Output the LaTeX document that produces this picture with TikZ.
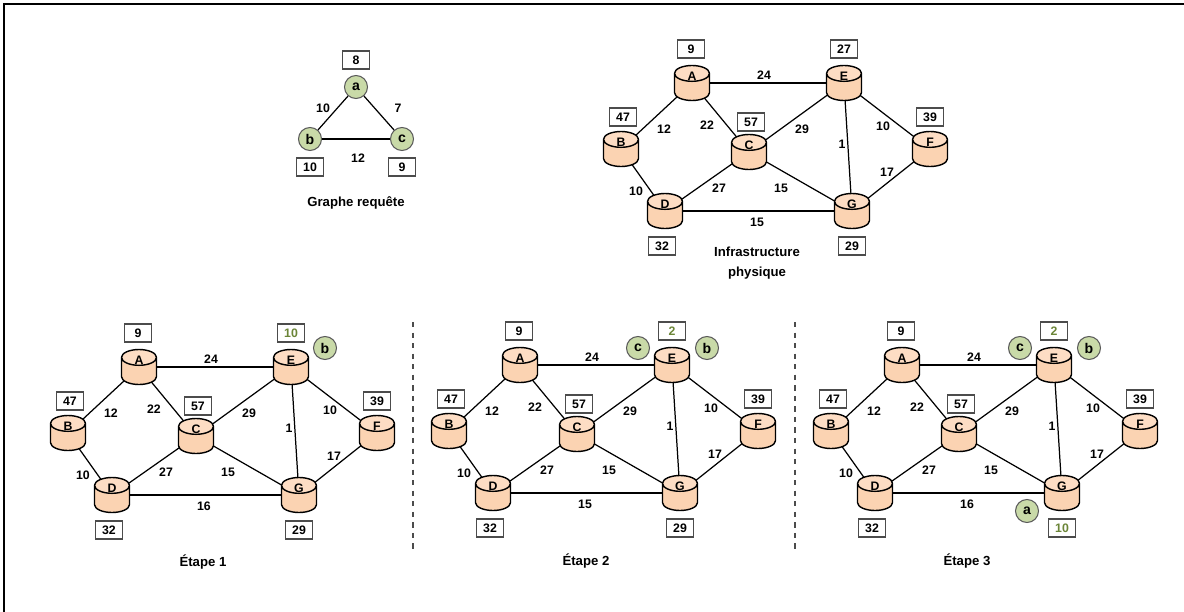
\documentclass[tikz,border=0pt]{standalone}
\usepackage{fontspec}
\setmainfont{Liberation Sans}
\usetikzlibrary{shapes.geometric,backgrounds}
\definecolor{peach}{HTML}{FBD3B2}
\definecolor{peachlight}{HTML}{FDDDC4}
\definecolor{moss}{HTML}{C9DAA8}
\definecolor{mossdark}{HTML}{6B8537}
\tikzset{
  link/.style={line width=.7pt},
  disk/.style={cylinder, shape border rotate=90, shape aspect=1.5, draw=black, line width=.8pt,
    anchor=shape center, minimum width=35*0.02cm, minimum height=35*0.02cm, inner sep=3pt,
    cylinder uses custom fill, cylinder end fill=peachlight, cylinder body fill=peach,
    label={[yshift=8pt,font=\bfseries\fontsize{7}{8}\selectfont]center:#1}},
  tag/.style={draw=black!70, fill=white, line width=.6pt, minimum width=27*0.02cm,
    minimum height=18*0.02cm, inner sep=0pt, font=\bfseries\fontsize{7}{8}\selectfont},
  vnode/.style={circle, draw=black!65, fill=moss, line width=.6pt, minimum size=23*0.02cm,
    inner sep=0pt, font=\bfseries\fontsize{8}{9}\selectfont},
  weight/.style={inner sep=0pt, font=\bfseries\fontsize{7}{8}\selectfont},
  caption/.style={inner sep=0pt, align=center, font=\bfseries\fontsize{7.5}{11}\selectfont},
  sep/.style={draw=black!70, line width=.6pt, dashed}
}
\begin{document}
\begin{tikzpicture}[x=0.02cm,y=-0.02cm]
\useasboundingbox (0,0) rectangle (1184,612);
\draw[line width=.8pt] (4,612) -- (4,4) -- (1184,4);
% query graph
\node[vnode] (a) at (356,87) {a};
\node[vnode] (b) at (310,139) {b};
\node[vnode] (c) at (402,139) {c};
\node[tag] (taga) at (356,60) {8};
\node[tag] (tagb) at (310,167) {10};
\node[tag] (tagc) at (402,167) {9};
\draw[link] (a) -- (b);
\draw[link] (a) -- (c);
\draw[link] (b) -- (c);
\node[weight] (wab) at (323,108) {10};
\node[weight] (wac) at (398,108) {7};
\node[weight] (wbc) at (358,158) {12};
\node[caption] (capq) at (356,203) {Graphe requête};
% the same network four times
\foreach \g/\dx/\dy/\wdg/\vale/\cole/\colg/\valg in {
  0/0/0/15/27/black/black/29,
  1/-553/284/16/10/mossdark/black/29,
  2/-172/282/15/2/mossdark/black/29,
  3/210/282/16/2/mossdark/mossdark/10}{
\begin{scope}[shift={(\dx,\dy)}]
\node[disk=A] (A\g) at (692,83) {};
\node[disk=B] (B\g) at (621,149) {};
\node[disk=C] (C\g) at (749,152) {};
\node[disk=D] (D\g) at (665,211) {};
\node[disk=E] (E\g) at (844,83) {};
\node[disk=F] (F\g) at (930,149) {};
\node[disk=G] (G\g) at (852,211) {};
\node[tag] (tagA\g) at (691,49) {9};
\node[tag] (tagB\g) at (623,117) {47};
\node[tag] (tagC\g) at (751,122) {57};
\node[tag] (tagD\g) at (662,246) {32};
\node[tag,text=\cole] (tagE\g) at (844,49) {\vale};
\node[tag] (tagF\g) at (930,117) {39};
\node[tag,text=\colg] (tagG\g) at (852,246) {\valg};
\begin{scope}[on background layer]
\draw[link] (A\g.shape center) -- (E\g.shape center);
\draw[link] (A\g.shape center) -- (B\g.shape center);
\draw[link] (A\g.shape center) -- (C\g.shape center);
\draw[link] (B\g.shape center) -- (D\g.shape center);
\draw[link] (C\g.shape center) -- (D\g.shape center);
\draw[link] (C\g.shape center) -- (E\g.shape center);
\draw[link] (C\g.shape center) -- (G\g.shape center);
\draw[link] (D\g.shape center) -- (G\g.shape center);
\draw[link] (E\g.shape center) -- (F\g.shape center);
\draw[link] (E\g.shape center) -- (G\g.shape center);
\draw[link] (F\g.shape center) -- (G\g.shape center);
\end{scope}
\node[weight] (wAE\g) at (764,75) {24};
\node[weight] (wAB\g) at (664,129) {12};
\node[weight] (wAC\g) at (707,125) {22};
\node[weight] (wBD\g) at (636,191) {10};
\node[weight] (wCD\g) at (719,188) {27};
\node[weight] (wCE\g) at (802,129) {29};
\node[weight] (wCG\g) at (781,188) {15};
\node[weight] (wDG\g) at (757,222) {\wdg};
\node[weight] (wEF\g) at (883,126) {10};
\node[weight] (wEG\g) at (842,144) {1};
\node[weight] (wFG\g) at (887,172) {17};
\end{scope}
}
\node[caption] (capp) at (757,263) {Infrastructure\\physique};
\node[caption] (cap1) at (203,562) {Étape 1};
\node[caption] (cap2) at (586,561) {Étape 2};
\node[caption] (cap3) at (967,561) {Étape 3};
% mapped virtual nodes
\node[vnode] (b1) at (325,348) {b};
\node[vnode] (c2) at (638,348) {c};
\node[vnode] (b2) at (707,348) {b};
\node[vnode] (c3) at (1020,348) {c};
\node[vnode] (b3) at (1089,348) {b};
\node[vnode] (a3) at (1027,511) {a};
\draw[sep] (413,322) -- (413,551);
\draw[sep] (795,322) -- (795,551);
\end{tikzpicture}
\end{document}
